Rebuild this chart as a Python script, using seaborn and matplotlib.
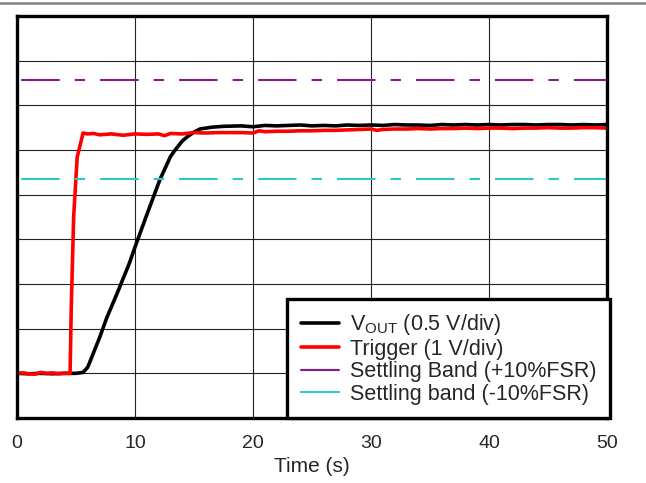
import matplotlib
matplotlib.use("Agg")
import matplotlib.pyplot as plt
import seaborn as sns
from matplotlib.lines import Line2D

# ---------------- DATA (in divisions, 9 div full scale) ----------------
vout_t = [0, 1, 2, 3, 4, 5, 5.6, 6.0, 7.0, 7.6, 8.5, 9.5, 10.1, 11.0, 12.1, 13.0,
          13.4, 14.0, 14.4, 15.0, 15.5, 16.5, 17.5, 19, 20, 21, 22, 23, 24, 25, 26,
          27, 28, 29, 30, 31, 32, 33, 34, 35, 36, 37, 38, 39, 40, 41, 42, 43, 44,
          45, 46, 47, 48, 49, 50]
vout_v = [1.0, 0.99, 1.0, 0.99, 1.0, 1.0, 1.02, 1.14, 1.8, 2.24, 2.8, 3.45, 3.9,
          4.55, 5.33, 5.85, 6.0, 6.2, 6.29, 6.4, 6.47, 6.51, 6.53, 6.54, 6.52, 6.55,
          6.54, 6.55, 6.56, 6.54, 6.55, 6.54, 6.56, 6.55, 6.56, 6.55, 6.57, 6.56,
          6.56, 6.55, 6.57, 6.56, 6.57, 6.56, 6.57, 6.56, 6.57, 6.57, 6.56, 6.57,
          6.57, 6.56, 6.57, 6.56, 6.57]

trig_t = [0, 0.5, 1, 1.5, 2, 2.5, 3, 3.5, 4, 4.5, 4.6, 4.8, 5.1, 5.6, 6, 6.5, 7, 8,
          9, 10, 11, 12, 12.5, 13, 14, 15, 16, 17, 18, 19, 20, 20.5, 21, 22, 23, 24,
          25, 26, 27, 28, 29, 30, 30.5, 31, 32, 33, 34, 35, 36, 37, 38, 39, 40, 41,
          42, 43, 44, 45, 46, 47, 48, 49, 50]
trig_v = [1.0, 1.01, 0.99, 0.98, 1.02, 1.0, 1.01, 0.99, 1.0, 1.0, 2.5, 4.5, 5.84,
          6.38, 6.36, 6.37, 6.34, 6.36, 6.33, 6.36, 6.35, 6.36, 6.32, 6.37, 6.36,
          6.39, 6.38, 6.39, 6.39, 6.39, 6.38, 6.43, 6.41, 6.42, 6.42, 6.43, 6.43,
          6.44, 6.44, 6.45, 6.46, 6.47, 6.44, 6.46, 6.47, 6.47, 6.48, 6.47, 6.48,
          6.48, 6.49, 6.48, 6.49, 6.49, 6.48, 6.49, 6.49, 6.5, 6.49, 6.49, 6.5,
          6.5, 6.49]

band_hi = 7.57
band_lo = 5.35

labels = [r"$\mathregular{V_{OUT}}$ (0.5 V/div)", "Trigger (1 V/div)",
          "Settling Band (+10%FSR)", "Settling band (-10%FSR)"]
x_ticks = [0, 10, 20, 30, 40, 50]

# ---------------- STYLE ----------------
sns.set_style("white")
plt.rcParams["font.family"] = ["Liberation Sans", "DejaVu Sans"]
plt.rcParams["mathtext.fontset"] = "custom"
plt.rcParams["mathtext.rm"] = "Liberation Sans"

fig = plt.figure(figsize=(6.46, 4.83), dpi=100)
ax = fig.add_axes([17 / 646, 1 - 418 / 483, 590 / 646, 402 / 483])

sns.lineplot(x=vout_t, y=vout_v, ax=ax, color="black", linewidth=2.6, sort=False)
sns.lineplot(x=trig_t, y=trig_v, ax=ax, color="#ff0000", linewidth=2.6, sort=False)
dash = (35.9, (18.5, 7.2, 5.0, 7.2))
ax.axhline(band_hi, color="#8b1a8b", linewidth=1.5, linestyle=dash)
ax.axhline(band_lo, color="#2ec8c8", linewidth=1.5, linestyle=dash)

ax.set_xlim(0, 50)
ax.set_ylim(0, 9)
ax.set_xticks(x_ticks)
ax.set_xticklabels([str(t) for t in x_ticks], fontsize=14)
ax.set_yticks(range(10))
ax.set_yticklabels([])
ax.tick_params(length=0, pad=12)
ax.grid(True, color="#222222", linewidth=0.8)
ax.set_xlabel("Time (s)", fontsize=15, labelpad=4)
ax.set_ylabel("")
for s in ax.spines.values():
    s.set_linewidth(2.4)
    s.set_color("black")

handles = [Line2D([], [], color="black", linewidth=2.6),
           Line2D([], [], color="#ff0000", linewidth=2.6),
           Line2D([], [], color="#8b1a8b", linewidth=1.5),
           Line2D([], [], color="#2ec8c8", linewidth=1.5)]
leg = ax.legend(handles, labels, loc="lower right", bbox_to_anchor=(1.005, 0.0),
                borderaxespad=0, fontsize=15.5, frameon=True, fancybox=False,
                labelspacing=0.07, handlelength=1.8, handletextpad=0.5,
                borderpad=0.62, framealpha=1)
leg.get_frame().set_edgecolor("black")
leg.get_frame().set_linewidth(2.4)

# thin gray rule at the top of the figure
fig.add_artist(Line2D([0, 1], [1 - 3 / 483, 1 - 3 / 483], color="#808080",
                      linewidth=1.8, transform=fig.transFigure))

fig.savefig("out.png", dpi=100)
